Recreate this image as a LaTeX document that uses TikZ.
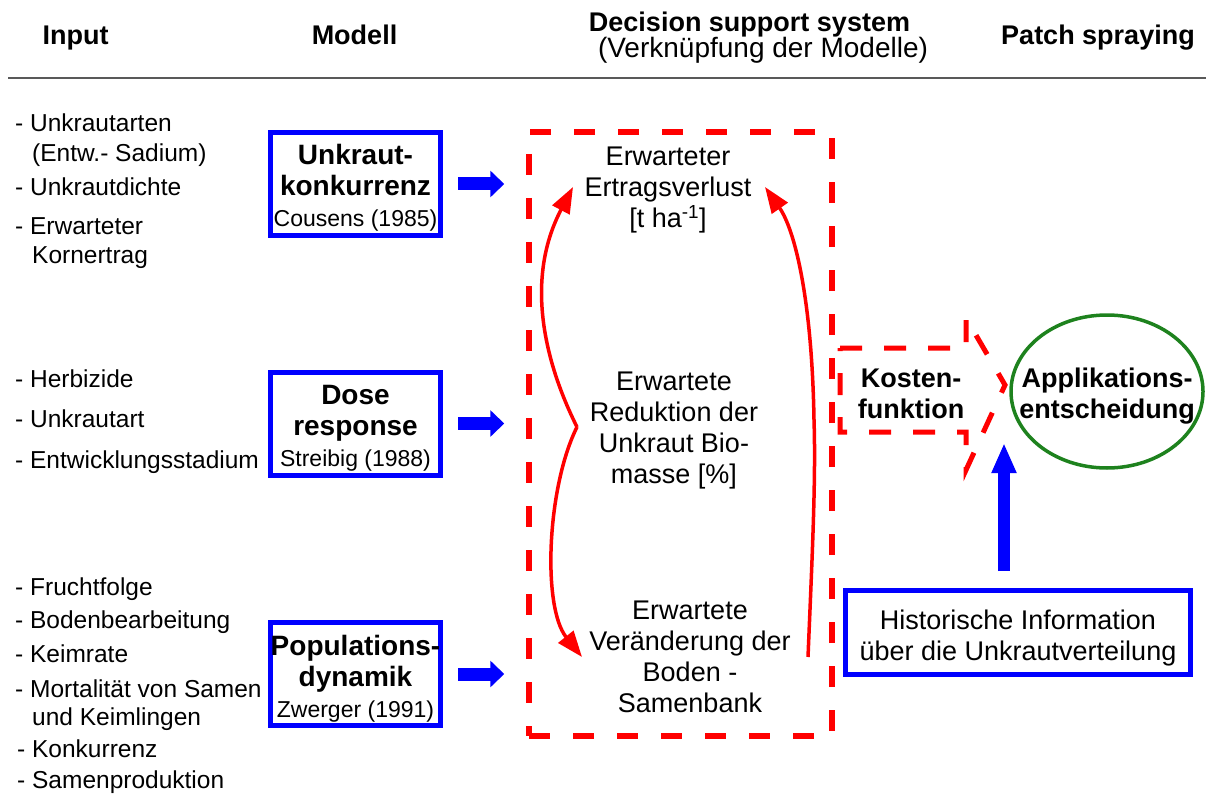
\documentclass[tikz,border=0pt]{standalone}
\usepackage{fontspec}
\setmainfont{Liberation Sans}
\usetikzlibrary{arrows.meta,shapes.geometric}
\definecolor{dssred}{RGB}{255,0,0}
\definecolor{modblue}{RGB}{0,0,255}
\definecolor{appgreen}{RGB}{30,130,30}
\newcommand\titlef{\fontsize{28}{31}\selectfont\bfseries}
\newcommand\reff{\fontsize{23}{29}\selectfont\mdseries}
\newcommand\dssf{\fontsize{27}{31}\selectfont}
\newcommand\topstrut[1]{\rule{0pt}{#1}}
\tikzset{
  colhead/.style={anchor=base,inner sep=0pt,font=\fontsize{27}{31}\selectfont\bfseries},
  inp/.style={anchor=base west,inner sep=0pt,font=\fontsize{24.5}{28}\selectfont},
  model/.style={draw=modblue,line width=5pt,minimum width=170pt,minimum height=103pt,
    inner sep=0pt,align=center,font=\titlef},
  dsstext/.style={align=center,inner sep=0pt,font=\dssf},
  boldtext/.style={align=center,inner sep=0pt,font=\dssf\bfseries},
  fat/.style={modblue,line width=13pt,-{Triangle[length=14pt,width=26pt]}},
  fatup/.style={modblue,line width=12pt,-{Triangle[length=30pt,width=23pt]}},
  feedback/.style={dssred,line width=3.5pt,-{Triangle[length=26pt,width=19pt]}},
  dashbox/.style={draw=dssred,line width=5.5pt,dash pattern=on 21pt off 23pt},
}
\begin{document}
\begin{tikzpicture}[x=1pt,y=-1pt]
  \useasboundingbox (0,0) rectangle (1206,794);
  \node[colhead] (hinput) at (75.5,45) {Input};
  \node[colhead] (hmodell) at (354.5,45) {Modell};
  \node[colhead] (hdss) at (749.5,32) {Decision support system};
  \node[colhead,font=\fontsize{28}{31}\selectfont] (hdsssub) at (763,58) {(Verknüpfung der Modelle)};
  \node[colhead] (hpatch) at (1098,45) {Patch spraying};
  \draw[gray!70!black,line width=2.7pt] (8,78) -- (1206,78);

  \node[inp] (i1) at (15,132) {- Unkrautarten};
  \node[inp] (i1b) at (32,162) {(Entw.- Sadium)};
  \node[inp] (i2) at (15,196) {- Unkrautdichte};
  \node[inp] (i3) at (15,235) {- Erwarteter};
  \node[inp] (i3b) at (32,263) {Kornertrag};
  \node[inp] (i4) at (15,387) {- Herbizide};
  \node[inp] (i5) at (15,427) {- Unkrautart};
  \node[inp] (i6) at (15,468) {- Entwicklungsstadium};
  \node[inp] (i7) at (15,595) {- Fruchtfolge};
  \node[inp] (i8) at (15,628) {- Bodenbearbeitung};
  \node[inp] (i9) at (15,662) {- Keimrate};
  \node[inp] (i10) at (15,697) {- Mortalität von Samen};
  \node[inp] (i10b) at (32,725) {und Keimlingen};
  \node[inp] (i11) at (17,757) {- Konkurrenz};
  \node[inp] (i12) at (17,788) {- Samenproduktion};

  \node[model] (unk) at (355.5,184) {\topstrut{28pt}Unkraut-\\konkurrenz\\\reff Cousens (1985)};
  \node[model] (dose) at (355.5,423.5) {\topstrut{29pt}Dose\\response\\\reff Streibig (1988)};
  \node[model] (pop) at (355.5,674) {\topstrut{30pt}Populations-\\dynamik\\\reff Zwerger (1991)};

  \node[dashbox,minimum width=303pt,minimum height=604pt] (dss) at (680.5,434) {};
  \node[dsstext] (loss) at (668,190) {Erwarteter\\Ertragsverlust\\{[t ha\textsuperscript{-1}]}};
  \node[dsstext] (red) at (674,431) {Erwartete\\Reduktion der\\Unkraut Bio-\\masse [\%]};
  \node[dsstext] (seed) at (690,657) {Erwartete\\Veränderung der\\Boden -\\Samenbank};

  \draw[fat] ([xshift=15pt]unk.east) -- ([xshift=-22pt]unk.east -| dss.west);
  \draw[fat] ([xshift=15pt]dose.east) -- ([xshift=-22pt]dose.east -| dss.west);
  \draw[fat] ([xshift=15pt]pop.east) -- ([xshift=-22pt]pop.east -| dss.west);

  \coordinate (brace) at (577,427);
  \coordinate (lossl) at (573,187);
  \coordinate (lossr) at (765,187);
  \coordinate (seedl) at (582,657);
  \coordinate (seedr) at (808,657);
  \draw[feedback] (brace) .. controls +(-30,-60) and +(-50,95) .. (lossl);
  \draw[feedback] (brace) .. controls +(-30,60) and +(-40,-50) .. (seedl);
  \draw[feedback] (seedr) .. controls (812,560) and (816,480) .. (814,420)
    .. controls (812,300) and (795,230) .. (lossr);

  \draw[dssred,line width=5pt,dash pattern=on 22pt off 22pt]
    (840,348) -- (966,348) -- (966,318) -- (1005,385) -- (966,470) -- (966,432) -- (840,432) -- cycle;
  \node[boldtext] (cost) at (911,393.5) {Kosten-\\funktion};
  \node[ellipse,draw=appgreen,line width=3.5pt,minimum width=192pt,minimum height=153pt,
    boldtext,inner xsep=-20pt] (app) at (1107,391.5) {\topstrut{28pt}Applikations-\\entscheidung};

  \node[draw=modblue,line width=5pt,minimum width=345pt,minimum height=84pt,dsstext]
    (hist) at (1018,632.5) {\topstrut{31pt}Historische Information\\über die Unkrautverteilung};
  \coordinate (apparr) at (1004,443);
  \draw[fatup] ([xshift=-14pt,yshift=17pt]hist.north) -- (apparr);
\end{tikzpicture}
\end{document}
